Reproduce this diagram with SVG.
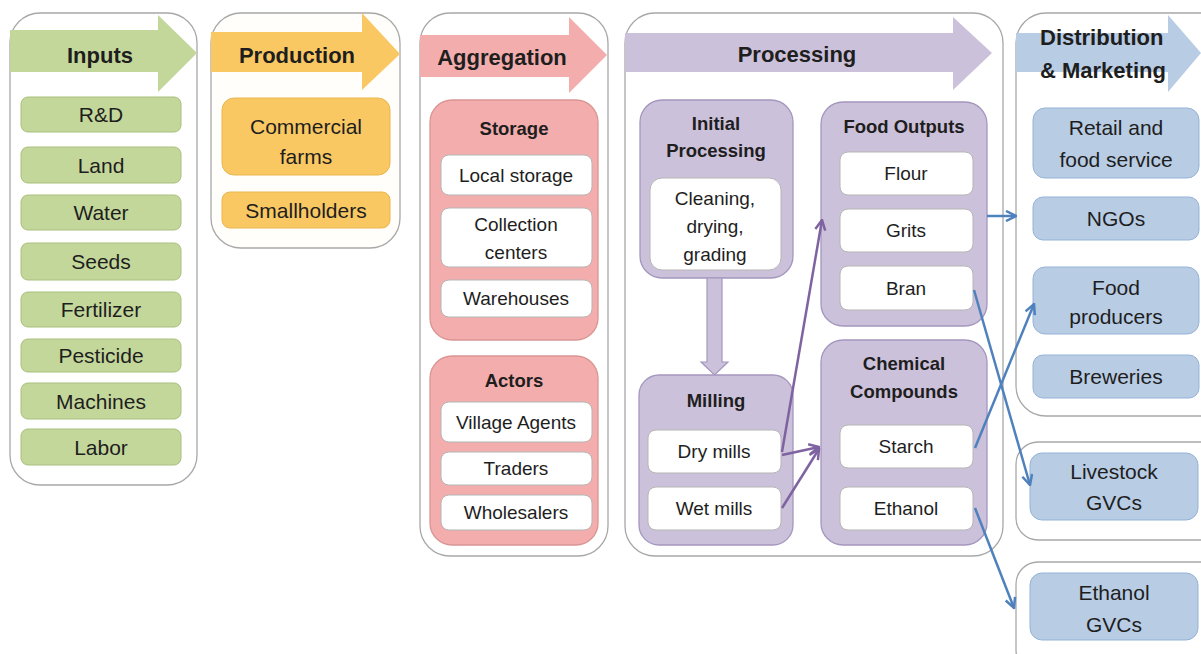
<svg xmlns="http://www.w3.org/2000/svg" width="1201" height="654" viewBox="0 0 1201 654">
<defs>
<style>
text{font-family:"Liberation Sans",Arial,sans-serif;fill:#1e1e1e;text-anchor:middle}
.h{font-weight:bold;font-size:22px}
.s{font-weight:bold;font-size:18.5px}
.t21{font-size:21px}
.t19{font-size:19px}
.panel{fill:#fff;stroke:#a8a8a8;stroke-width:1.3}
.g{fill:#c4d79b;stroke:#a9bf7e;stroke-width:1}
.o{fill:#fac863;stroke:#e9b650;stroke-width:1}
.p{fill:#f3adad;stroke:#d99594;stroke-width:1.3}
.v{fill:#ccc1da;stroke:#a497bf;stroke-width:1.3}
.b{fill:#b8cce4;stroke:#95b3d7;stroke-width:1}
.w{fill:#fff;stroke:#b5b5b5;stroke-width:1}
.cp{fill:none;stroke:#7f63a1;stroke-width:2.5}
.cb{fill:none;stroke:#4f81bd;stroke-width:2.5}
</style>
<marker id="ap" viewBox="0 0 10 10" refX="9" refY="5" markerWidth="5" markerHeight="5" orient="auto" markerUnits="strokeWidth">
<path d="M1,1 L9,5 L1,9" fill="none" stroke="#7f63a1" stroke-width="2"/>
</marker>
<marker id="ab" viewBox="0 0 10 10" refX="9" refY="5" markerWidth="5" markerHeight="5" orient="auto" markerUnits="strokeWidth">
<path d="M1,1 L9,5 L1,9" fill="none" stroke="#4f81bd" stroke-width="2"/>
</marker>
</defs>
<rect width="1201" height="654" fill="#fff"/>

<g id="inputs">
<rect class="panel" x="10" y="13" width="187" height="472" rx="30"/>
<polygon points="10,30 158,30 158,15 197,53 158,92 158,72 10,72" fill="#c4d79b"/>
<text class="h" x="100" y="63">Inputs</text>
<rect class="g" x="21" y="97" width="160" height="35" rx="7"/><text class="t21" x="101" y="122">R&amp;D</text>
<rect class="g" x="21" y="147" width="160" height="36" rx="7"/><text class="t21" x="101" y="172.5">Land</text>
<rect class="g" x="21" y="195" width="160" height="35" rx="7"/><text class="t21" x="101" y="220">Water</text>
<rect class="g" x="21" y="243" width="160" height="37" rx="7"/><text class="t21" x="101" y="269">Seeds</text>
<rect class="g" x="21" y="292" width="160" height="35" rx="7"/><text class="t21" x="101" y="317">Fertilizer</text>
<rect class="g" x="21" y="339" width="160" height="33" rx="7"/><text class="t21" x="101" y="363">Pesticide</text>
<rect class="g" x="21" y="383" width="160" height="36" rx="7"/><text class="t21" x="101" y="408.5">Machines</text>
<rect class="g" x="21" y="429" width="160" height="36" rx="7"/><text class="t21" x="101" y="454.5">Labor</text>
</g>

<g id="production">
<rect class="panel" x="211" y="13" width="189" height="235" rx="30" style="fill:#fffefa"/>
<polygon points="211,32 362,32 362,13 400,54 362,90 362,72 211,72" fill="#fac863"/>
<text class="h" x="297" y="63">Production</text>
<rect class="o" x="222" y="98" width="168" height="77" rx="12"/>
<text class="t21" x="306" y="134">Commercial</text>
<text class="t21" x="306" y="164">farms</text>
<rect class="o" x="222" y="192" width="168" height="36" rx="8"/>
<text class="t21" x="306" y="218">Smallholders</text>
</g>

<g id="aggregation">
<rect class="panel" x="420" y="13" width="188" height="543" rx="30"/>
<polygon points="420,35 569,35 569,17 607,55 569,93 569,77 420,77" fill="#f3adad"/>
<text class="h" x="502" y="65">Aggregation</text>
<g id="storage">
<rect class="p" x="430" y="100" width="168" height="240" rx="22"/>
<text class="s" x="514" y="135">Storage</text>
<rect class="w" x="441" y="155" width="151" height="40" rx="8"/><text class="t19" x="516" y="182">Local storage</text>
<rect class="w" x="441" y="208" width="151" height="59" rx="8"/><text class="t19" x="516" y="231">Collection</text><text class="t19" x="516" y="259">centers</text>
<rect class="w" x="441" y="280" width="151" height="37" rx="8"/><text class="t19" x="516" y="305">Warehouses</text>
</g>
<g id="actors">
<rect class="p" x="430" y="356" width="168" height="189" rx="22"/>
<text class="s" x="514" y="387">Actors</text>
<rect class="w" x="441" y="402" width="151" height="40" rx="8"/><text class="t19" x="516" y="429">Village Agents</text>
<rect class="w" x="441" y="452" width="151" height="33" rx="8"/><text class="t19" x="516" y="475">Traders</text>
<rect class="w" x="441" y="495" width="151" height="35" rx="8"/><text class="t19" x="516" y="519">Wholesalers</text>
</g>
</g>

<g id="processing">
<rect class="panel" x="625" y="13" width="378" height="543" rx="30"/>
<polygon points="625,33 953,33 953,17 992,53 953,90 953,72 625,72" fill="#ccc1da"/>
<text class="h" x="797" y="62">Processing</text>
<g id="initial">
<rect class="v" x="640" y="100" width="153" height="178" rx="22"/>
<text class="s" x="716" y="130">Initial</text>
<text class="s" x="716" y="157">Processing</text>
<rect class="w" x="650" y="178" width="131" height="92" rx="12"/>
<text class="t19" x="715" y="205">Cleaning,</text>
<text class="t19" x="715" y="233">drying,</text>
<text class="t19" x="715" y="261">grading</text>
</g>
<polygon points="707,278 722,278 722,362 728,362 714.5,375 701,362 707,362" fill="#ccc1da" stroke="#a497bf" stroke-width="1.2"/>
<g id="milling">
<rect class="v" x="639" y="375" width="154" height="170" rx="20"/>
<text class="s" x="716" y="407">Milling</text>
<rect class="w" x="648" y="430" width="133" height="43" rx="8"/><text class="t19" x="714" y="458">Dry mills</text>
<rect class="w" x="648" y="487" width="133" height="43" rx="8"/><text class="t19" x="714" y="515">Wet mills</text>
</g>
<g id="food-outputs">
<rect class="v" x="821" y="102" width="166" height="224" rx="22"/>
<text class="s" x="904" y="133">Food Outputs</text>
<rect class="w" x="840" y="152" width="133" height="43" rx="8"/><text class="t19" x="906" y="180">Flour</text>
<rect class="w" x="840" y="209" width="133" height="43" rx="8"/><text class="t19" x="906" y="237">Grits</text>
<rect class="w" x="840" y="266" width="133" height="44" rx="8"/><text class="t19" x="906" y="295">Bran</text>
</g>
<g id="chemical">
<rect class="v" x="821" y="340" width="166" height="205" rx="22"/>
<text class="s" x="904" y="370">Chemical</text>
<text class="s" x="904" y="398">Compounds</text>
<rect class="w" x="840" y="425" width="133" height="43" rx="8"/><text class="t19" x="906" y="453">Starch</text>
<rect class="w" x="840" y="487" width="133" height="43" rx="8"/><text class="t19" x="906" y="515">Ethanol</text>
</g>
</g>

<g id="distribution">
<rect class="panel" x="1016" y="13" width="215" height="403" rx="30"/>
<polygon points="1016,33 1168,33 1168,15 1201,53 1168,92 1168,72 1016,72" fill="#b8cce4"/>
<text class="h" x="1040" y="45" style="text-anchor:start">Distribution</text>
<text class="h" x="1040" y="78" style="text-anchor:start">&amp; Marketing</text>
<rect class="b" x="1033" y="108" width="166" height="70" rx="12"/>
<text class="t21" x="1116" y="135">Retail and</text>
<text class="t21" x="1116" y="167">food service</text>
<rect class="b" x="1033" y="197" width="166" height="43" rx="10"/><text class="t21" x="1116" y="226">NGOs</text>
<rect class="b" x="1033" y="267" width="166" height="67" rx="12"/>
<text class="t21" x="1116" y="295">Food</text>
<text class="t21" x="1116" y="324">producers</text>
<rect class="b" x="1033" y="355" width="166" height="43" rx="10"/><text class="t21" x="1116" y="384">Breweries</text>
</g>

<g id="livestock">
<rect class="panel" x="1016" y="442" width="215" height="98" rx="22"/>
<rect class="b" x="1030" y="453" width="168" height="67" rx="12"/>
<text class="t21" x="1114" y="479">Livestock</text>
<text class="t21" x="1114" y="510">GVCs</text>
</g>

<g id="ethanol-gvcs">
<rect class="panel" x="1016" y="562" width="215" height="110" rx="22"/>
<rect class="b" x="1030" y="573" width="168" height="67" rx="12"/>
<text class="t21" x="1114" y="600">Ethanol</text>
<text class="t21" x="1114" y="632">GVCs</text>
</g>

<g id="connectors">
<line class="cp" x1="782" y1="452" x2="822" y2="220" marker-end="url(#ap)"/>
<line class="cp" x1="782" y1="455" x2="819" y2="447" marker-end="url(#ap)"/>
<line class="cp" x1="782" y1="508" x2="819" y2="449" marker-end="url(#ap)"/>
<line class="cb" x1="987" y1="216" x2="1016" y2="216" marker-end="url(#ab)"/>
<line class="cb" x1="974" y1="290" x2="1030" y2="485" marker-end="url(#ab)"/>
<line class="cb" x1="975" y1="448" x2="1034" y2="304" marker-end="url(#ab)"/>
<line class="cb" x1="975" y1="508" x2="1014" y2="608" marker-end="url(#ab)"/>
</g>
</svg>
